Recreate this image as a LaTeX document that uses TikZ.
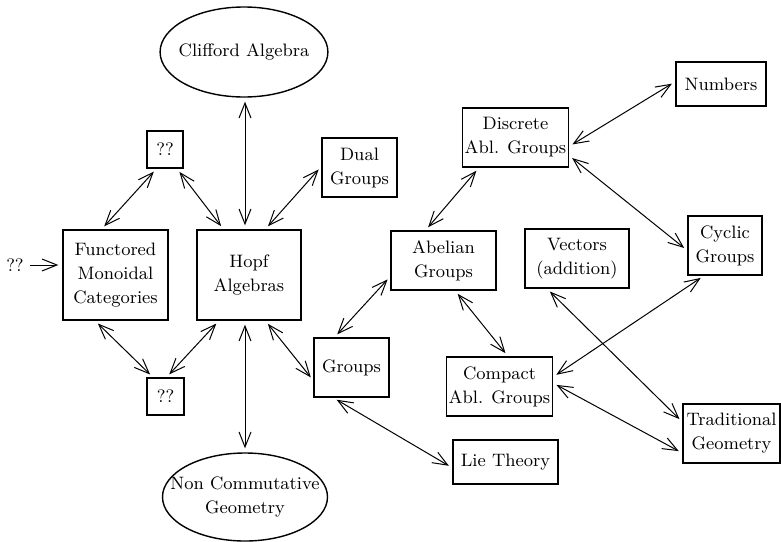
\documentclass[tikz,border=0pt]{standalone}
\usetikzlibrary{shapes,calc,arrows.meta,positioning}
\tikzset{
  box/.style={draw, line width=0.7pt, align=center, inner sep=1pt,
    font=\fontsize{9}{12}\selectfont},
  oval/.style={box, ellipse},
  link/.style={<->, >={Straight Barb[length=7.5pt,width=6pt]}, line width=0.5pt,
    shorten <=2pt, shorten >=2pt}
}

\begin{document}
\begin{tikzpicture}[x=0.5pt,y=-0.5pt]
        \useasboundingbox (0,0) rectangle (781,541);
        % Left block
        \node[oval, inner xsep=-3pt, minimum width=83.5pt, minimum height=45pt] (cliff) at (244,52) {Clifford Algebra};
        \node[box, minimum width=18pt, minimum height=18.5pt] (qtop) at (165,149.5) {??};
        \node[box, minimum width=52.5pt, minimum height=45pt] (func) at (115.5,275) {Functored\\Monoidal\\Categories};
        \node[box, minimum width=52pt, minimum height=45pt] (hopf) at (249,275) {Hopf\\Algebras};
        \node[box, minimum width=18.5pt, minimum height=18.5pt] (qbot) at (165.5,396.5) {??};
        \node[oval, inner xsep=-9pt, minimum width=82.5pt, minimum height=44pt] (ncg) at (245,497) {Non Commutative\\Geometry};
        \node[font=\fontsize{9}{12}\selectfont, inner sep=1pt] (qleft) at (15,265) {??};
        % Groups block
        \node[box, minimum width=37.5pt, minimum height=29.5pt] (dual) at (359.5,167.5) {Dual\\Groups};
        \node[box, minimum width=37.5pt, minimum height=29.5pt] (groups) at (351.5,367.5) {Groups};
        \node[box, minimum width=52.5pt, minimum height=29.5pt] (abel) at (443.5,260.5) {Abelian\\Groups};
        \node[box, minimum width=52.5pt, minimum height=29.5pt] (disc) at (515.5,137.5) {Discrete\\Abl. Groups};
        \node[box, minimum width=45pt, minimum height=22pt] (num) at (721,84) {Numbers};
        \node[box, minimum width=52pt, minimum height=29.5pt] (vec) at (577,258.5) {Vectors\\(addition)};
        \node[box, minimum width=37pt, minimum height=29.5pt] (cyc) at (725,245.5) {Cyclic\\Groups};
        \node[box, minimum width=52.5pt, minimum height=29.5pt] (comp) at (499.5,386.5) {Compact\\Abl. Groups};
        \node[box, minimum width=52.5pt, minimum height=22pt] (lie) at (505.5,462) {Lie Theory};
        \node[box, minimum width=48.5pt, minimum height=29.5pt] (trad) at (731.5,433.5) {Traditional\\Geometry};
        % Arrows around Hopf algebras
        \draw[link, ->] (qleft.east) -- (qleft.east -| func.west);
        \draw[link] ([xshift=-7pt]func.north) -- ([xshift=-4.25pt]qtop.south);
        \draw[link] ([xshift=6pt]qtop.south) -- ([xshift=-12.75pt]hopf.north);
        \draw[link] ([xshift=0.5pt]cliff.south) -- ([xshift=0.5pt]cliff.south |- hopf.north);
        \draw[link] ([xshift=8.15pt]hopf.north) -- ([yshift=0.5pt]dual.west);
        \draw[link] ([xshift=-10.25pt]func.south) -- ([xshift=-6.25pt]qbot.north);
        \draw[link] ([xshift=-15pt]hopf.south) -- ([xshift=0.5pt]qbot.north);
        \draw[link] (ncg.north |- hopf.south) -- (ncg.north);
        \draw[link] ([xshift=8.2pt]hopf.south) -- ([yshift=-6.5pt]groups.west);
        % Arrows between the groups
        \draw[link] ([xshift=-8.5pt]groups.north) -- ([yshift=-8pt]abel.west);
        \draw[link] ([xshift=-9pt]abel.north) -- ([xshift=-18.25pt]disc.south);
        \draw[link] ([yshift=-4.5pt]disc.east) -- ([yshift=1.2pt]num.west);
        \draw[link] ([yshift=-9pt]disc.east) -- ([yshift=-2.5pt]cyc.west);
        \draw[link] ([xshift=5.85pt]abel.south) -- ([xshift=4.25pt]comp.north);
        \draw[link] ([xshift=-9.15pt]groups.south) -- ([yshift=-2.9pt]lie.west);
        \draw[link] ([xshift=-15pt]vec.south) -- ([yshift=5.8pt]trad.west);
        \draw[link] ([xshift=-10.5pt]cyc.south) -- ([yshift=4.75pt]comp.east);
        \draw[link] ([yshift=1.75pt]comp.east) -- ([yshift=-9.75pt]trad.west);
\end{tikzpicture}
\end{document}
